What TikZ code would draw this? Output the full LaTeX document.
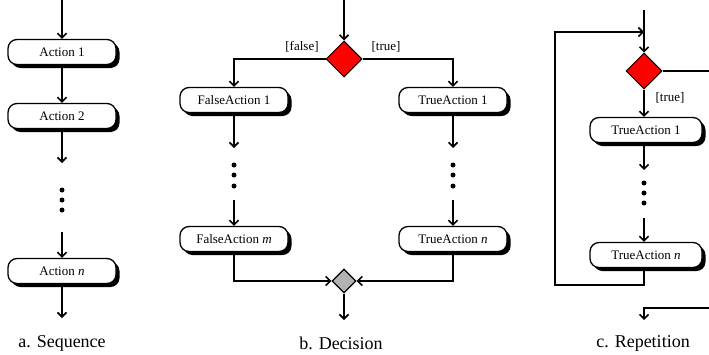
\documentclass[tikz,border=0pt]{standalone}
\usepackage{fontspec}
\setmainfont{Liberation Serif}
\usetikzlibrary{arrows.meta, shapes.geometric, shadows}

\begin{document}
\begin{tikzpicture}[x=1pt, y=-1pt,
    act/.style={draw, line width=1.3pt, rounded corners=9pt, fill=white,
        minimum width=108pt, minimum height=25pt, font=\fontsize{13}{15}\selectfont,
        drop shadow={shadow xshift=3.5pt, shadow yshift=-3.5pt, fill=black, opacity=1}},
    dec/.style={draw, line width=1pt, diamond, fill=red, minimum width=36pt,
        minimum height=36pt, inner sep=0pt},
    mrg/.style={draw, line width=1.3pt, diamond, fill=gray!60, minimum width=24pt,
        minimum height=24pt, inner sep=0pt},
    flow/.style={line width=1.6pt, -{Straight Barb[length=4.5pt, width=9pt]}},
    seg/.style={line width=1.6pt},
    guard/.style={font=\fontsize{13}{15}\selectfont},
    caption/.style={font=\fontsize{18}{20}\selectfont},
    dot/.style={circle, fill, inner sep=0pt, minimum size=5pt}]
    \useasboundingbox (0,0) rectangle (709,354);

    % a. Sequence
    \coordinate (a0) at (62,0);
    \node[act] (a1) at (62,52) {Action 1};
    \node[act] (a2) at (62,116) {Action 2};
    \coordinate (a2d) at (62,163);
    \node[dot] (ad1) at (62,190) {};
    \node[dot] (ad2) at (62,200) {};
    \node[dot] (ad3) at (62,210) {};
    \coordinate (au) at (62,232);
    \node[act] (an) at (62,271) {Action \textit{n}};
    \coordinate (aend) at (62,318);
    \node[caption] (acap) at (62,343) {a. Sequence};
    \draw[flow] (a0) -- (a1);
    \draw[flow] (a1) -- (a2);
    \draw[flow] (a2) -- (a2d);
    \draw[flow] (au) -- (an);
    \draw[flow] (an) -- (aend);

    % b. Decision
    \coordinate (b0) at (344,0);
    \node[dec] (bd) at (344,59) {};
    \node[guard] (gf) at (302,47) {[false]};
    \node[guard] (gt) at (386,47) {[true]};
    \node[act] (f1) at (234,100) {FalseAction 1};
    \node[act] (t1) at (453,100) {TrueAction 1};
    \coordinate (f1d) at (234,148);
    \coordinate (t1d) at (453,148);
    \foreach \yy [count=\i] in {165,175,186} {
        \node[dot] (fd\i) at (234,\yy) {};
        \node[dot] (td\i) at (453,\yy) {};
    }
    \coordinate (fu) at (234,200);
    \coordinate (tu) at (453,200);
    \node[act] (fm) at (234,239) {FalseAction \textit{m}};
    \node[act] (tn) at (453,239) {TrueAction \textit{n}};
    \node[mrg] (bm) at (344,281) {};
    \coordinate (bend) at (344,320);
    \node[caption] (bcap) at (341,343) {b. Decision};
    \draw[flow] (b0) -- (bd);
    \draw[flow] (bd.west) -| (f1);
    \draw[flow] (bd.east) -| (t1);
    \draw[flow] (f1) -- (f1d);
    \draw[flow] (t1) -- (t1d);
    \draw[flow] (fu) -- (fm);
    \draw[flow] (tu) -- (tn);
    \draw[flow] (fm) |- (bm);
    \draw[flow] (tn) |- (bm);
    \draw[flow] (bm) -- (bend);

    % c. Repetition
    \coordinate (c0) at (644,10);
    \coordinate (cj) at (644,32);
    \node[dec] (cd) at (644,71) {};
    \coordinate (cx) at (709,71);
    \node[guard] (gt2) at (670,98) {[true]};
    \node[act, minimum width=112pt] (c1) at (646,130) {TrueAction 1};
    \coordinate (c1d) at (644,170);
    \foreach \yy [count=\i] in {183,193,203}
        \node[dot] (cd\i) at (644,\yy) {};
    \coordinate (cu) at (644,218);
    \node[act, minimum width=112pt] (cn) at (646,255) {TrueAction \textit{n}};
    \coordinate (cl) at (555,285);
    \coordinate (cr) at (709,308);
    \coordinate (cend) at (644,320);
    \node[caption] (ccap) at (643,343) {c. Repetition};
    \draw[seg] (c0) -- (cj);
    \draw[flow] (cj) -- (cd);
    \draw[seg] (cd) -- (cx);
    \draw[flow] (cd) -- (cd.south |- c1.north);
    \draw[flow] (c1.south -| c1d) -- (c1d);
    \draw[flow] (cu) -- (cu |- cn.north);
    \draw[flow] (cn.south -| cu) |- (cl) |- (cj);
    \draw[flow] (cr) -| (cend);
\end{tikzpicture}
\end{document}
